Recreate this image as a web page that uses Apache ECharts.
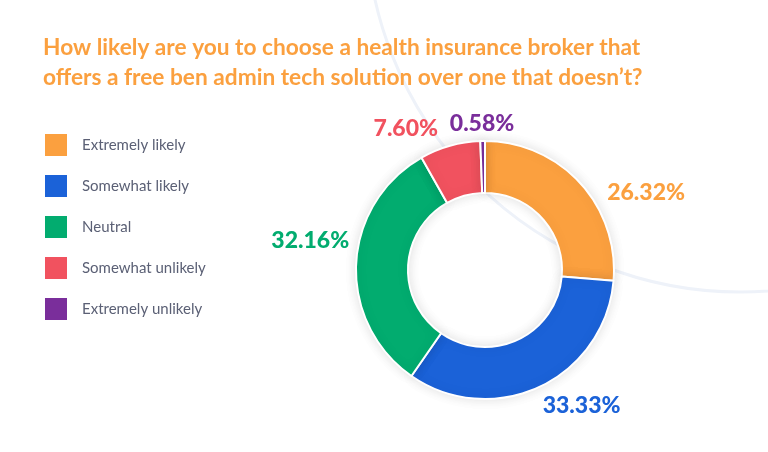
<!DOCTYPE html>
<html><head><meta charset="utf-8">
<script src="https://cdn.jsdelivr.net/npm/echarts@6/dist/echarts.min.js"></script>
<style>html,body{margin:0;padding:0;background:#fff}#c{width:768px;height:452px}</style>
</head><body><div id="c"></div>
<script>
const categories = ['Extremely likely','Somewhat likely','Neutral','Somewhat unlikely','Extremely unlikely'];
const values = [26.32, 33.33, 32.16, 7.60, 0.58];
const colors = ['#FBA03F','#1B62D8','#02AC6F','#F1525F','#7A2E9B'];
const titleText = 'How likely are you to choose a health insurance broker that\noffers a free ben admin tech solution over one that doesn’t?';
// label nudges (style only)
const labelShift = [[9,22],[-10,3],[16,-23],[-2,0],[37,1]];

const chart = echarts.init(document.getElementById('c'));
chart.setOption({
  backgroundColor: '#fff',
  title: {
    text: titleText, left: 38, top: 28,
    textStyle: { color: '#FBA03F', fontFamily: 'Lato', fontWeight: 'bold', fontSize: 22.7, lineHeight: 30 }
  },
  graphic: [{
    type: 'circle', silent: true, z: -10,
    shape: { cx: 740, cy: -82, r: 374 },
    style: { fill: 'none', stroke: '#eef2f9', lineWidth: 3 }
  }],
  legend: {
    orient: 'vertical', left: 38, top: 127, icon: 'rect',
    itemWidth: 24, itemHeight: 24, itemGap: 15,
    textStyle: { color: '#5b6075', fontSize: 15, fontFamily: 'Lato', padding: [0,0,0,9] },
    data: categories
  },
  series: [{
    type: 'pie',
    center: [485, 270], radius: [77, 129],
    startAngle: 90, clockwise: true,
    avoidLabelOverlap: false,
    itemStyle: { borderColor: '#fff', borderWidth: 2, shadowBlur: 12, shadowColor: 'rgba(0,0,0,0.12)' },
    label: {
      show: true, position: 'outside',
      formatter: p => p.value.toFixed(2) + '%',
      fontFamily: 'Lato', fontWeight: 900, fontSize: 23
    },
    labelLine: { show: false, length: 18, length2: 0 },
    labelLayout: p => ({ dx: labelShift[p.dataIndex][0], dy: labelShift[p.dataIndex][1], hideOverlap: false }),
    data: categories.map((c, i) => ({ name: c, value: values[i], itemStyle: { color: colors[i] }, label: { color: colors[i] } }))
  }]
});
</script></body></html>
